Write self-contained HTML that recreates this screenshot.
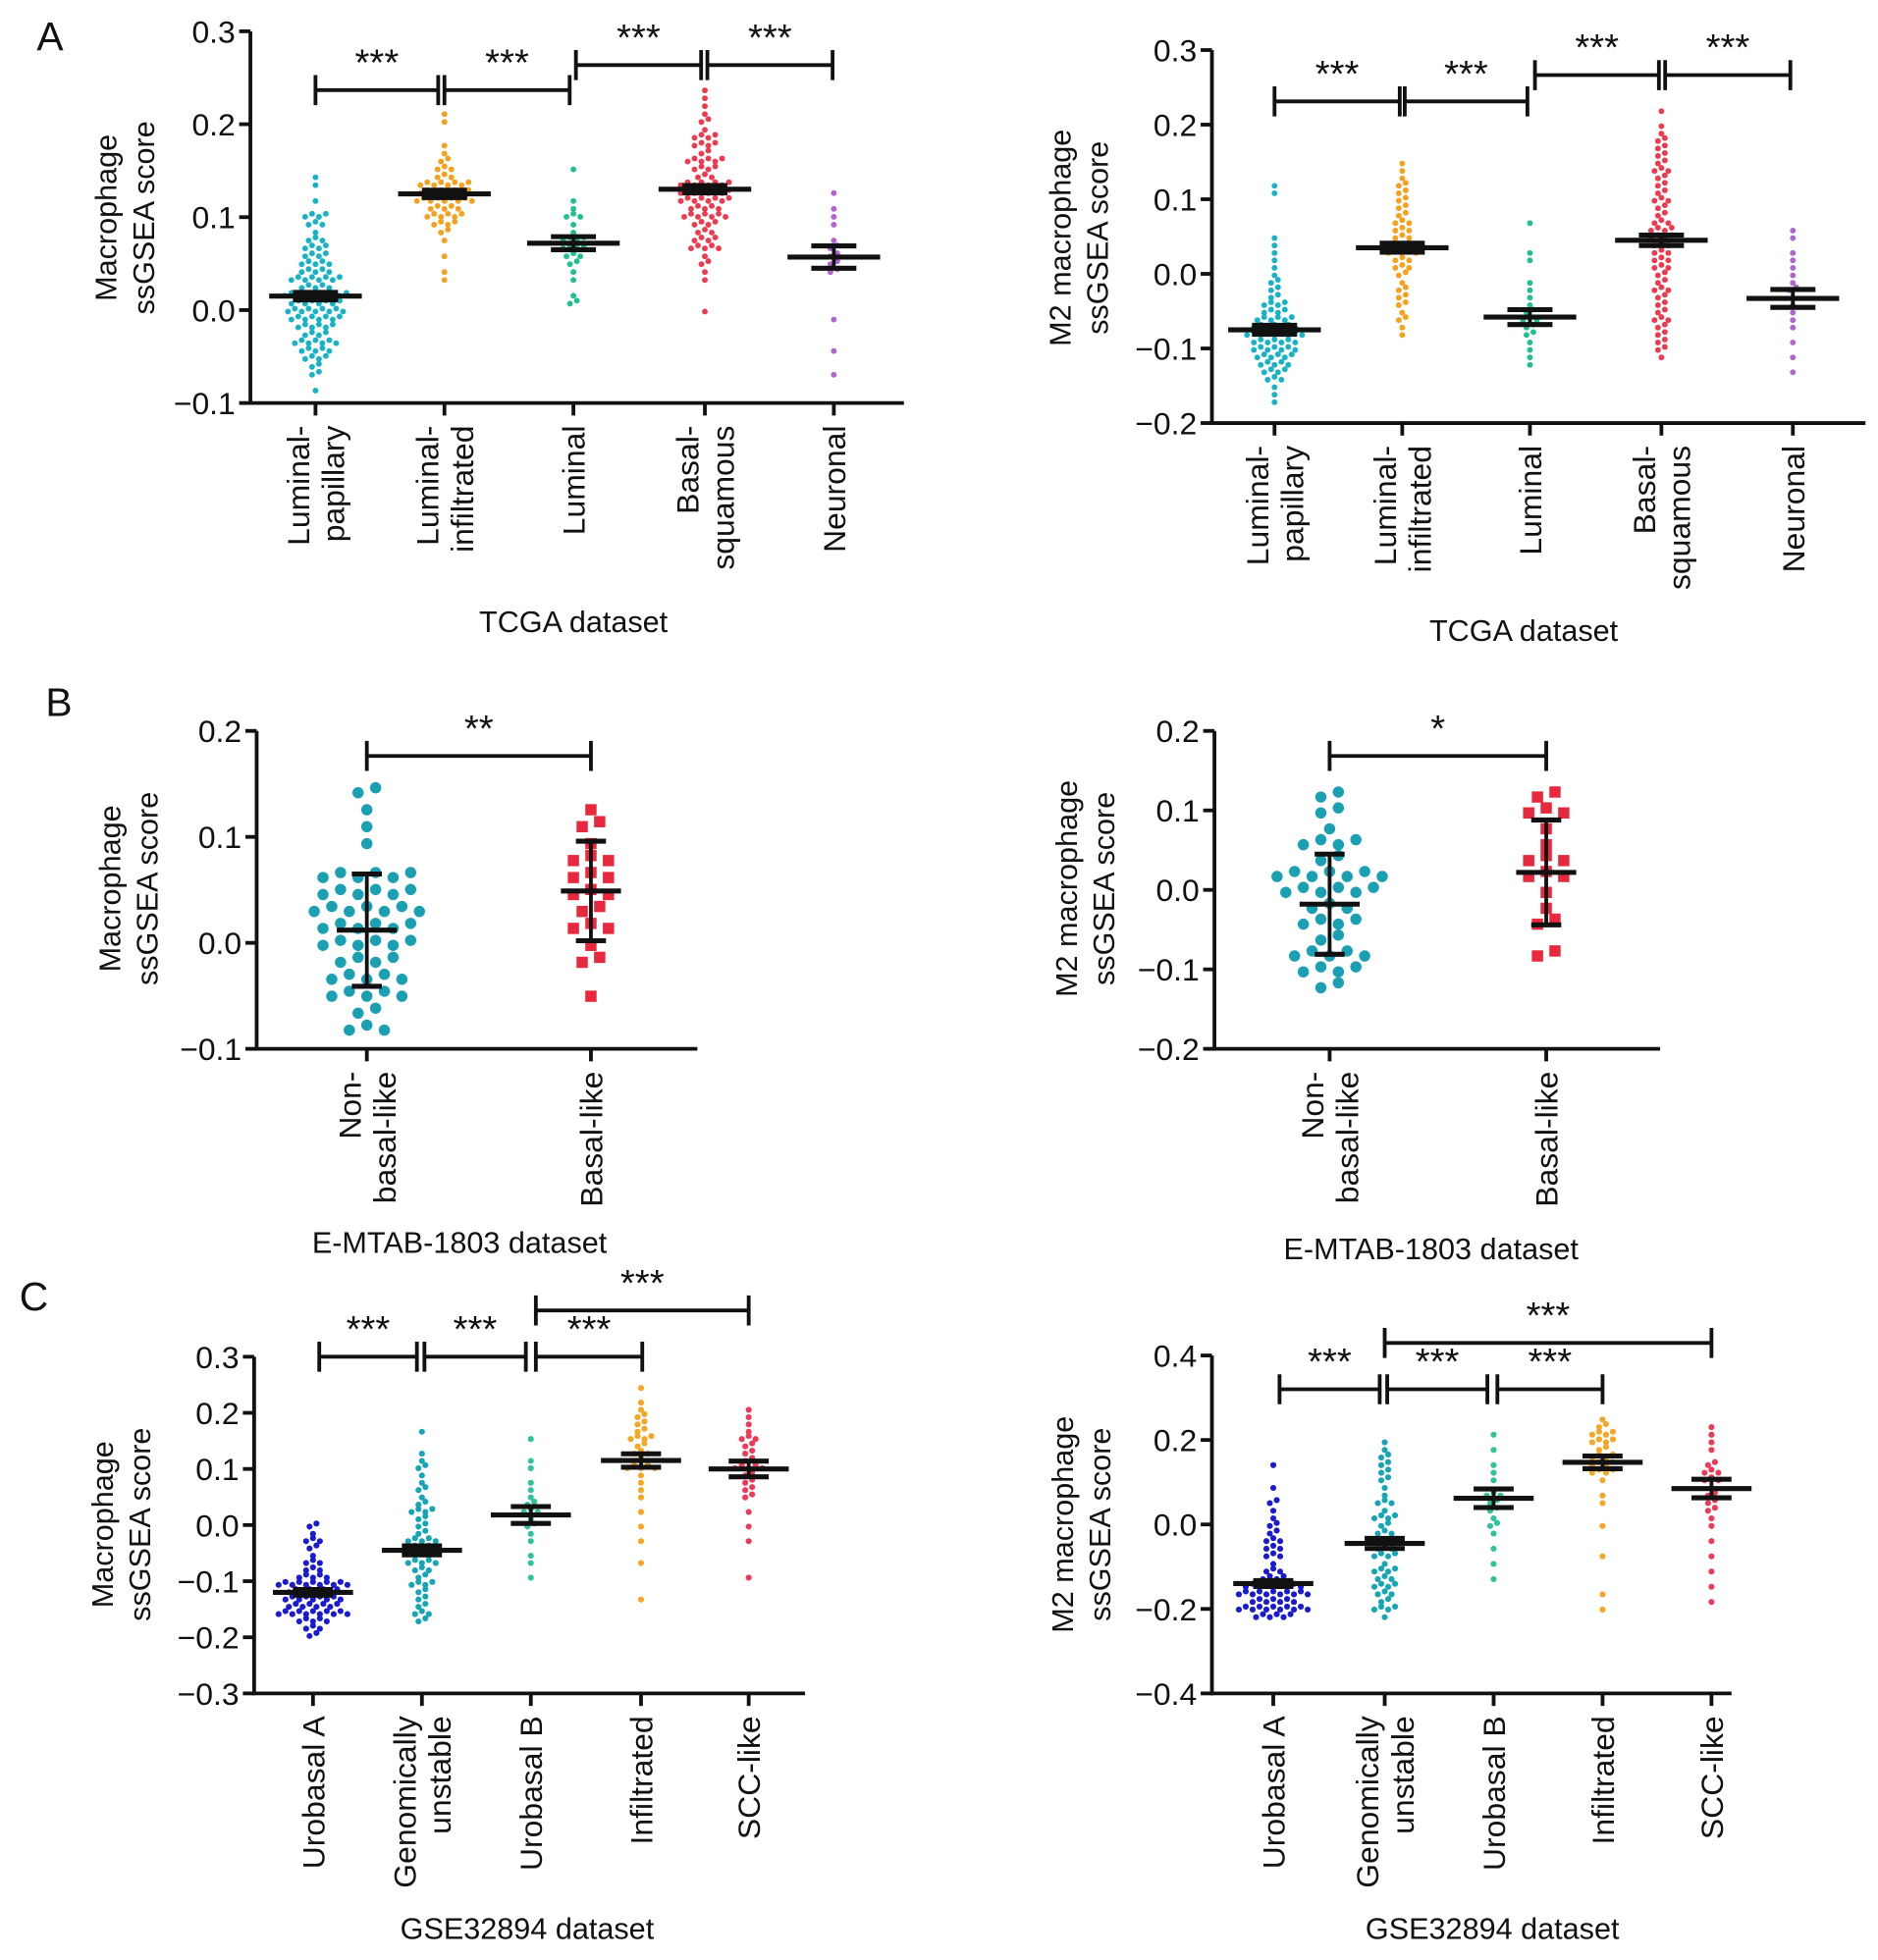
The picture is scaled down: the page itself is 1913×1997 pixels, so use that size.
<!DOCTYPE html>
<html><head><meta charset="utf-8"><style>
html,body{margin:0;padding:0;background:#fff}
svg{display:block}
text{font-family:"Liberation Sans",Arial,sans-serif;fill:#111}
</style></head><body>
<svg id="fig" width="1913" height="1997" viewBox="0 0 1500 1566" preserveAspectRatio="none" xmlns="http://www.w3.org/2000/svg"></svg>
<script>
// ---------- DATA ----------
const a1Cats = ["Luminal-|papillary","Luminal-|infiltrated","Luminal","Basal-|squamous","Neuronal"];
const a1Ticks = [0.3,0.2,0.1,0.0,-0.1];
const a1Means = [0.015,0.125,0.072,0.13,0.057];
const a1Err = [0.004,0.004,0.007,0.004,0.012];
const a1LP = [-0.088,-0.07,-0.065,-0.06,-0.058,-0.055,-0.05,-0.048,-0.045,-0.042,-0.04,-0.04,-0.037,-0.035,-0.033,-0.03,-0.03,-0.03,-0.028,-0.025,-0.025,-0.022,-0.02,-0.02,-0.018,-0.015,-0.015,-0.012,-0.01,-0.01,-0.01,-0.008,-0.005,-0.005,-0.004,-0.002,0,0,0,0.002,0.004,0.005,0.006,0.008,0.01,0.01,0.01,0.012,0.013,0.015,0.015,0.016,0.018,0.02,0.02,0.02,0.022,0.024,0.025,0.027,0.03,0.03,0.03,0.032,0.035,0.037,0.04,0.04,0.042,0.045,0.048,0.05,0.052,0.055,0.058,0.06,0.062,0.065,0.07,0.072,0.075,0.08,0.085,0.09,0.095,0.1,0.1,0.105,0.118,0.14,0.145,-0.03,-0.02,-0.01,0.0,0.01,0.02,0.03,0.04,0.05,0.06,0.07,0.08,0.09,0.1,-0.04,-0.05,0.0,0.015,0.025,0.035];
const a1LI = [0.038,0.045,0.06,0.08,0.085,0.09,0.092,0.095,0.1,0.1,0.102,0.105,0.108,0.11,0.11,0.112,0.115,0.115,0.118,0.12,0.12,0.12,0.122,0.125,0.125,0.125,0.128,0.13,0.13,0.132,0.135,0.135,0.138,0.14,0.14,0.145,0.148,0.15,0.155,0.16,0.165,0.17,0.175,0.2,0.21,0.1,0.11,0.12,0.13,0.14,0.15,0.085,0.095,0.105,0.115,0.125,0.135,0.145];
const a1LU = [0.005,0.012,0.02,0.035,0.04,0.05,0.055,0.06,0.062,0.065,0.07,0.072,0.075,0.078,0.08,0.085,0.09,0.1,0.105,0.11,0.115,0.155,0.06,0.07,0.08,0.1];
const a1BS = [0.003,0.03,0.04,0.05,0.055,0.06,0.065,0.07,0.072,0.075,0.08,0.082,0.085,0.09,0.092,0.095,0.1,0.1,0.102,0.105,0.108,0.11,0.11,0.112,0.115,0.115,0.118,0.12,0.12,0.122,0.125,0.125,0.128,0.13,0.13,0.13,0.132,0.135,0.135,0.138,0.14,0.14,0.145,0.148,0.15,0.15,0.155,0.16,0.16,0.165,0.17,0.175,0.18,0.185,0.19,0.195,0.2,0.21,0.22,0.23,0.235,0.07,0.08,0.09,0.1,0.11,0.12,0.13,0.14,0.15,0.16,0.17,0.18,0.19,0.2,0.08,0.1,0.12,0.14,0.16,0.18,0.065,0.085,0.105,0.125,0.145,0.165,0.185];
const a1NE = [-0.07,-0.04,-0.005,0.04,0.045,0.05,0.055,0.058,0.06,0.065,0.07,0.08,0.09,0.1,0.11,0.125];

const a2Ticks = [0.3,0.2,0.1,0.0,-0.1,-0.2];
const a2Means = [-0.075,0.035,-0.058,0.045,-0.033];
const a2Err = [0.006,0.006,0.01,0.007,0.012];
const a2LP = [-0.17,-0.16,-0.15,-0.145,-0.14,-0.135,-0.13,-0.13,-0.125,-0.12,-0.12,-0.115,-0.112,-0.11,-0.11,-0.105,-0.1,-0.1,-0.1,-0.098,-0.095,-0.092,-0.09,-0.09,-0.088,-0.085,-0.085,-0.082,-0.08,-0.08,-0.078,-0.075,-0.075,-0.072,-0.07,-0.07,-0.068,-0.065,-0.062,-0.06,-0.06,-0.055,-0.05,-0.05,-0.045,-0.04,-0.035,-0.03,-0.025,-0.02,-0.015,-0.01,0,0.01,0.02,0.03,0.04,0.045,0.11,0.12,-0.14,-0.13,-0.12,-0.11,-0.1,-0.09,-0.08,-0.07,-0.06,-0.05,-0.04,-0.03,-0.12,-0.1,-0.08,-0.06,-0.115,-0.095,-0.085];
const a2LI = [-0.08,-0.07,-0.06,-0.05,-0.04,-0.03,-0.02,-0.01,0,0.005,0.01,0.015,0.02,0.025,0.028,0.03,0.032,0.035,0.038,0.04,0.042,0.045,0.05,0.055,0.06,0.065,0.07,0.08,0.09,0.1,0.11,0.12,0.13,0.14,0.15,-0.04,-0.02,0,0.02,0.04,0.06,0.08,0.1,0.12,-0.06,-0.03,0.01,0.03,0.05,0.07,0.09,0.11];
const a2LU = [-0.12,-0.11,-0.1,-0.09,-0.08,-0.075,-0.07,-0.065,-0.06,-0.055,-0.05,-0.04,-0.03,-0.02,-0.01,0.02,0.03,0.07,-0.08,-0.06];
const a2BS = [-0.11,-0.1,-0.09,-0.08,-0.07,-0.06,-0.05,-0.04,-0.03,-0.02,-0.01,0,0.005,0.01,0.02,0.025,0.03,0.035,0.04,0.045,0.045,0.05,0.055,0.06,0.065,0.07,0.08,0.09,0.1,0.11,0.12,0.13,0.14,0.15,0.16,0.17,0.18,0.19,0.2,0.22,-0.1,-0.08,-0.06,-0.04,-0.02,0,0.02,0.04,0.06,0.08,0.1,0.12,0.14,0.16,0.18,-0.09,-0.07,-0.05,-0.03,-0.01,0.01,0.03,0.05,0.07,0.09,0.11,0.13,0.15,0.17,-0.06,-0.02,0.02,0.06,0.1,0.14];
const a2NE = [-0.13,-0.11,-0.09,-0.07,-0.06,-0.05,-0.04,-0.03,-0.025,-0.02,-0.01,0,0.01,0.02,0.03,0.045,0.06];

const b1Cats = ["Non-|basal-like","Basal-like"];
const b1Ticks = [0.2,0.1,0.0,-0.1];
const b1Means = [0.012,0.049];
const b1SD = [0.053,0.047];
const b1NB = [-0.088,-0.085,-0.08,-0.065,-0.06,-0.055,-0.05,-0.05,-0.04,-0.035,-0.03,-0.025,-0.02,-0.02,-0.015,-0.01,-0.005,-0.005,0,0.005,0.01,0.01,0.015,0.02,0.025,0.025,0.03,0.03,0.035,0.04,0.04,0.045,0.05,0.06,0.065,0.07,0.07,0.1,0.11,0.135,0.14,0.145,-0.025,0.0,0.025,0.03,0.04,-0.005,0.015,0.045,-0.045,-0.055,0.065,0.06,0.02];
const b1BL = [-0.052,-0.02,-0.012,0.0,0.01,0.02,0.025,0.035,0.04,0.05,0.055,0.06,0.07,0.075,0.08,0.085,0.1,0.105,0.11,0.135,0.02,0.06];
const b2Ticks = [0.2,0.1,0.0,-0.1,-0.2];
const b2Means = [-0.018,0.022];
const b2SD = [0.063,0.066];
const b2NB = [-0.13,-0.12,-0.11,-0.1,-0.095,-0.09,-0.085,-0.07,-0.06,-0.05,-0.045,-0.04,-0.03,-0.02,-0.01,0,0,0.005,0.01,0.01,0.015,0.02,0.03,0.04,0.05,0.06,0.08,0.09,0.1,0.11,0.12,-0.09,-0.09,-0.04,-0.02,0.0,0.01,0.01,0.05,0.06,-0.06,-0.11,0.0,0.01];
const b2BL = [-0.09,-0.07,-0.04,-0.02,0,0.01,0.02,0.03,0.04,0.06,0.07,0.09,0.1,0.11,0.12,0.1,0.04,-0.04,0.02];

const c1Cats = ["Urobasal A","Genomically|unstable","Urobasal B","Infiltrated","SCC-like"];
const c1Ticks = [0.3,0.2,0.1,0.0,-0.1,-0.2,-0.3];
const c1Means = [-0.12,-0.045,0.018,0.115,0.1];
const c1Err = [0.005,0.008,0.015,0.012,0.014];
const c1UA = [-0.2,-0.19,-0.185,-0.18,-0.175,-0.17,-0.17,-0.165,-0.16,-0.16,-0.155,-0.15,-0.15,-0.15,-0.145,-0.14,-0.14,-0.14,-0.135,-0.13,-0.13,-0.13,-0.125,-0.12,-0.12,-0.12,-0.115,-0.11,-0.11,-0.11,-0.105,-0.1,-0.1,-0.095,-0.09,-0.09,-0.085,-0.08,-0.08,-0.075,-0.07,-0.06,-0.05,-0.04,-0.03,-0.02,-0.01,0,0.005,-0.18,-0.17,-0.16,-0.15,-0.14,-0.13,-0.12,-0.11,-0.1,-0.09,-0.16,-0.15,-0.14,-0.13,-0.12,-0.11,-0.1,-0.15,-0.14,-0.13,-0.12,-0.11,-0.14,-0.13,-0.12,-0.06,-0.04,-0.02];
const c1GU = [-0.175,-0.165,-0.155,-0.145,-0.135,-0.125,-0.115,-0.105,-0.1,-0.095,-0.085,-0.08,-0.075,-0.07,-0.065,-0.06,-0.055,-0.05,-0.045,-0.045,-0.04,-0.035,-0.03,-0.025,-0.02,-0.01,0,0.01,0.02,0.03,0.04,0.05,0.06,0.08,0.1,0.12,0.13,0.17,-0.16,-0.14,-0.12,-0.1,-0.08,-0.06,-0.04,-0.02,0,0.02,0.04,0.06,-0.15,-0.11,-0.07,-0.05,-0.03,-0.01,0.01,0.03,0.09,0.11];
const c1UB = [-0.09,-0.07,-0.05,-0.03,-0.01,0,0.01,0.02,0.03,0.04,0.05,0.06,0.08,0.1,0.12,0.155,0.0,0.02,0.04];
const c1IN = [-0.125,-0.06,-0.03,0.0,0.03,0.05,0.07,0.08,0.09,0.1,0.105,0.11,0.115,0.12,0.125,0.13,0.14,0.15,0.16,0.17,0.18,0.2,0.22,0.245,0.1,0.12,0.14,0.16,0.18,0.11,0.13,0.15,0.17,0.19,0.21];
const c1SC = [-0.09,-0.03,0.0,0.03,0.05,0.06,0.07,0.08,0.09,0.1,0.105,0.11,0.12,0.13,0.14,0.15,0.16,0.18,0.2,0.21,0.08,0.1,0.12,0.14,0.16,0.05,0.09,0.11,0.13,0.17];

const c2Ticks = [0.4,0.2,0.0,-0.2,-0.4];
const c2Means = [-0.14,-0.045,0.062,0.147,0.085];
const c2Err = [0.007,0.012,0.022,0.015,0.022];
const c2UA = [-0.22,-0.215,-0.21,-0.205,-0.2,-0.2,-0.195,-0.19,-0.185,-0.18,-0.18,-0.175,-0.17,-0.165,-0.16,-0.16,-0.155,-0.15,-0.145,-0.14,-0.14,-0.13,-0.12,-0.11,-0.1,-0.09,-0.08,-0.07,-0.06,-0.05,-0.04,-0.03,-0.01,0.0,0.02,0.04,0.06,0.09,0.14,-0.22,-0.21,-0.2,-0.19,-0.18,-0.17,-0.16,-0.15,-0.14,-0.13,-0.21,-0.2,-0.19,-0.18,-0.17,-0.16,-0.15,-0.14,-0.2,-0.19,-0.18,-0.17,-0.16,-0.15,-0.12,-0.1,-0.08,-0.06,-0.04,-0.02,0.0,0.05];
const c2GU = [-0.215,-0.2,-0.19,-0.18,-0.17,-0.16,-0.15,-0.14,-0.13,-0.12,-0.11,-0.1,-0.09,-0.08,-0.07,-0.06,-0.05,-0.045,-0.04,-0.03,-0.02,-0.01,0,0.01,0.02,0.04,0.06,0.08,0.1,0.12,0.14,0.16,0.18,0.2,-0.2,-0.18,-0.16,-0.14,-0.12,-0.1,-0.08,-0.06,-0.04,-0.02,0,0.02,0.06,0.1,0.14,-0.19,-0.15,-0.11,-0.07,-0.03,0.01,0.05,0.09,0.13,0.17];
const c2UB = [-0.12,-0.09,-0.06,-0.02,0,0.02,0.04,0.05,0.06,0.07,0.08,0.1,0.12,0.15,0.18,0.21,0.0,0.04,0.08];
const c2IN = [-0.2,-0.17,-0.07,0.0,0.05,0.08,0.1,0.12,0.13,0.14,0.15,0.16,0.17,0.18,0.19,0.2,0.21,0.22,0.23,0.245,0.12,0.14,0.16,0.18,0.2,0.22,0.13,0.15,0.17,0.19,0.21,0.23];
const c2SC = [-0.18,-0.15,-0.1,-0.07,-0.04,0,0.02,0.04,0.06,0.08,0.09,0.1,0.11,0.12,0.13,0.15,0.18,0.2,0.22,0.24,0.06,0.1,0.12,0.14,0.08,0.03];

// ---------- DRAWING ----------
const NS="http://www.w3.org/2000/svg";
const svg=document.getElementById('fig');
function mk(tag,attrs,parent){const e=document.createElementNS(NS,tag);for(const k in attrs)e.setAttribute(k,attrs[k]);(parent||svg).appendChild(e);return e;}
function txt(s,x,y,size,anchor,parent,rot){const t=mk('text',{x:0,y:0,'font-size':size,'text-anchor':anchor||'middle',transform:'translate('+x+','+y+')'+(rot?' rotate(-90)':'')},parent);t.textContent=s;return t;}

function panel(cfg){
  const g=mk('g',{});
  
  
  const ys=v=>cfg.yTop+(cfg.yMax-v)/(cfg.yMax-cfg.yMin)*(cfg.yBot-cfg.yTop);
  const ya=mk('line',{x1:cfg.x0,y1:cfg.yTop,x2:cfg.x0,y2:cfg.yBot+1.5,stroke:'#111','stroke-width':3},g);
  
  
  const xa=mk('line',{x1:cfg.x0-1.5,y1:cfg.yBot,x2:cfg.xEnd,y2:cfg.yBot,stroke:'#111','stroke-width':3},g);
  
  
  cfg.ticks.forEach(v=>{
    const y=ys(v);
    mk('line',{x1:cfg.x0-9,y1:y,x2:cfg.x0,y2:y,stroke:'#111','stroke-width':3},g);
    const t=txt((v<0?'\u2212':'')+Math.abs(v).toFixed(1),cfg.x0-12,y+9,25,'end',g);
    
    
  });
  const tl=cfg.ytitle;
  const t1=txt(tl[0],cfg.titleX,cfg.titleY,24,'middle',g,true);
  
  
  const t2=txt(tl[1],cfg.titleX+30,cfg.titleY,24,'middle',g,true);
  
  
  cfg.cats.forEach((c,i)=>{
    const cx=cfg.cx[i];
    mk('line',{x1:cx,y1:cfg.yBot,x2:cx,y2:cfg.yBot+10,stroke:'#111','stroke-width':3},g);
    const parts=c.split('|');
    parts.forEach((p,j)=>{
      const bx=parts.length===1?cx+9:cx-5+j*28;
      const t=txt(p,bx,cfg.yBot+18,25,'end',g,true);
      
      
    });
  });
  const dt=txt(cfg.xtitle,cfg.xtitlePos[0],cfg.xtitlePos[1],24,'middle',g);
  
  
  cfg.groups.forEach((vals,i)=>{
    const cx=cfg.cx[i];
    const bins={};
    vals.forEach(v=>{const k=Math.round(v/cfg.bin);(bins[k]=bins[k]||[]).push(v);});
    for(const k in bins){
      const arr=bins[k];
      arr.forEach((v,j)=>{
        const x=cx+(j-(arr.length-1)/2)*cfg.dx;
        const y=ys(k*cfg.bin)+((j%2)?-1:1)*cfg.jit;
        let m;
        if(cfg.square&&cfg.square[i]) m=mk('rect',{x:x-cfg.r,y:y-cfg.r,width:cfg.r*2,height:cfg.r*2,fill:cfg.colors[i]},g);
        else m=mk('circle',{cx:x,cy:y,r:cfg.r,fill:cfg.colors[i]},g);
        
        
      });
    }
  });
  cfg.means.forEach((m,i)=>{
    const cx=cfg.cx[i];
    const e=cfg.err[i];
    const gm=mk('g',{},g);
    
    
    mk('line',{x1:cx,y1:ys(m+e),x2:cx,y2:ys(m-e),stroke:'#111','stroke-width':3},gm);
    mk('line',{x1:cx-cfg.capW,y1:ys(m+e),x2:cx+cfg.capW,y2:ys(m+e),stroke:'#111','stroke-width':4},gm);
    mk('line',{x1:cx-cfg.capW,y1:ys(m-e),x2:cx+cfg.capW,y2:ys(m-e),stroke:'#111','stroke-width':4},gm);
    mk('line',{x1:cx-cfg.meanW,y1:ys(m),x2:cx+cfg.meanW,y2:ys(m),stroke:'#111','stroke-width':4},gm);
  });
  cfg.brackets.forEach(b=>{
    const gb=mk('g',{},g);
    
    
    const [x1,x2,y,label]=b;
    mk('path',{d:'M'+x1+' '+(y+12)+'V'+(y-12)+'M'+x1+' '+y+'H'+x2+'M'+x2+' '+(y-12)+'V'+(y+12),stroke:'#111','stroke-width':3,fill:'none'},gb);
    txt(label,(x1+x2)/2,y-12,30,'middle',gb);
  });
}

const ab=(s,x,y)=>{const t=txt(s,x,y,32,'middle');};
ab('A',40,40);ab('B',47,572);ab('C',27,1047);

panel({name:'panel-a-macrophage',x0:200,xEnd:722,yTop:25,yBot:322,yMax:0.3,yMin:-0.1,ticks:a1Ticks,
  ytitle:['Macrophage','ssGSEA score'],titleX:93,titleY:174,cats:a1Cats,cx:[252,355,458,563,666],
  xtitle:'TCGA dataset',xtitlePos:[458,505],groups:[a1LP,a1LI,a1LU,a1BS,a1NE],
  colors:['#17b2c6','#f6a11d','#20bf8e','#ee3a4f','#b064d4'],bin:0.0085,dx:5.5,r:2.3,jit:1.2,
  means:a1Means,err:a1Err,capW:18,meanW:37,
  brackets:[[252,350,72,'***'],[355,455,72,'***'],[460,560,52,'***'],[565,665,52,'***']]});
panel({name:'panel-a-m2-macrophage',x0:968,xEnd:1490,yTop:40,yBot:338,yMax:0.3,yMin:-0.2,ticks:a2Ticks,
  ytitle:['M2 macrophage','ssGSEA score'],titleX:855,titleY:190,cats:a1Cats,cx:[1018,1120,1222,1327,1432],
  xtitle:'TCGA dataset',xtitlePos:[1217,512],groups:[a2LP,a2LI,a2LU,a2BS,a2NE],
  colors:['#17b2c6','#f6a11d','#20bf8e','#ee3a4f','#b064d4'],bin:0.01,dx:5.5,r:2.3,jit:1.2,
  means:a2Means,err:a2Err,capW:18,meanW:37,
  brackets:[[1018,1118,81,'***'],[1122,1220,81,'***'],[1226,1325,60,'***'],[1330,1430,60,'***']]});
panel({name:'panel-b-macrophage',x0:205,xEnd:557,yTop:584,yBot:838,yMax:0.2,yMin:-0.1,ticks:b1Ticks,
  ytitle:['Macrophage','ssGSEA score'],titleX:96,titleY:710,cats:b1Cats,cx:[293,472],
  xtitle:'E-MTAB-1803 dataset',xtitlePos:[367,1001],groups:[b1NB,b1BL],
  colors:['#1aa0b2','#e8283c'],square:[false,true],bin:0.016,dx:14,r:4.5,jit:2,
  means:b1Means,err:b1SD,capW:12,meanW:24,
  brackets:[[293,472,604,'**']]});
panel({name:'panel-b-m2-macrophage',x0:970,xEnd:1326,yTop:584,yBot:838,yMax:0.2,yMin:-0.2,ticks:b2Ticks,
  ytitle:['M2 macrophage','ssGSEA score'],titleX:860,titleY:710,cats:b1Cats,cx:[1062,1235],
  xtitle:'E-MTAB-1803 dataset',xtitlePos:[1143,1006],groups:[b2NB,b2BL],
  colors:['#1aa0b2','#e8283c'],square:[false,true],bin:0.02,dx:14,r:4.5,jit:2,
  means:b2Means,err:b2SD,capW:12,meanW:24,
  brackets:[[1062,1235,604,'*']]});
panel({name:'panel-c-macrophage',x0:203,xEnd:643,yTop:1084,yBot:1353,yMax:0.3,yMin:-0.3,ticks:c1Ticks,
  ytitle:['Macrophage','ssGSEA score'],titleX:90,titleY:1218,cats:c1Cats,cx:[250,337,424,512,598],
  xtitle:'GSE32894 dataset',xtitlePos:[421,1549],groups:[c1UA,c1GU,c1UB,c1IN,c1SC],
  colors:['#1a1ad2','#15a6b6','#2ec39a','#f5a623','#ee3a58'],bin:0.013,dx:5.5,r:2.4,jit:1.2,
  means:c1Means,err:c1Err,capW:16,meanW:32,
  brackets:[[255,333,1084,'***'],[339,420,1084,'***'],[428,513,1084,'***'],[428,598,1047,'***']]});
panel({name:'panel-c-m2-macrophage',x0:968,xEnd:1383,yTop:1083,yBot:1353,yMax:0.4,yMin:-0.4,ticks:c2Ticks,
  ytitle:['M2 macrophage','ssGSEA score'],titleX:857,titleY:1218,cats:c1Cats,cx:[1017,1106,1193,1280,1367],
  xtitle:'GSE32894 dataset',xtitlePos:[1192,1549],groups:[c2UA,c2GU,c2UB,c2IN,c2SC],
  colors:['#1a1ad2','#15a6b6','#2ec39a','#f5a623','#ee3a58'],bin:0.018,dx:5.5,r:2.4,jit:1.2,
  means:c2Means,err:c2Err,capW:16,meanW:32,
  brackets:[[1022,1102,1110,'***'],[1108,1188,1110,'***'],[1196,1280,1110,'***'],[1106,1367,1073,'***']]});
</script>
</body></html>
